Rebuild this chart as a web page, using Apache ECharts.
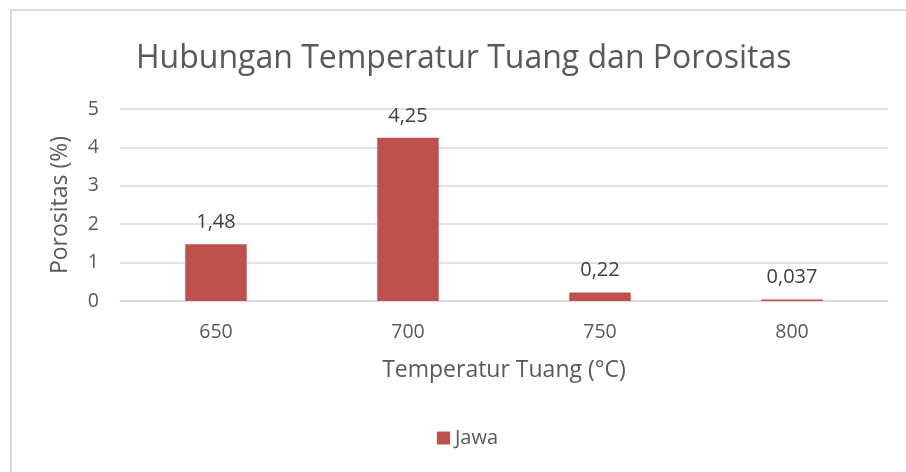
<!DOCTYPE html>
<html><head><meta charset="utf-8">
<script src="https://cdn.jsdelivr.net/npm/echarts@6/dist/echarts.min.js"></script>
<style>html,body{margin:0;padding:0;background:#fff}#c{width:906px;height:472px}</style>
</head><body><div id="c"></div>
<script>
const categories = ['650', '700', '750', '800'];
const values = [1.48, 4.25, 0.22, 0.037];
const valueLabels = ['1,48', '4,25', '0,22', '0,037'];
const seriesName = 'Jawa';

const FONT = 'Open Sans';
const chart = echarts.init(document.getElementById('c'), null, {renderer: 'canvas'});
chart.setOption({
  animation: false,
  textStyle: {fontFamily: FONT},
  graphic: [{
    type: 'rect', shape: {x: 11, y: 10, width: 1000, height: 1000},
    style: {fill: 'none', stroke: '#d9d9d9', lineWidth: 2}, silent: true, z: -10
  }],
  title: {
    text: 'Hubungan Temperatur Tuang dan Porositas', left: 131, top: 38,
    textStyle: {fontFamily: FONT, fontSize: 32, fontWeight: 'normal', color: '#595959'}
  },
  legend: {
    data: [seriesName], bottom: 19, left: 432, itemWidth: 13, itemHeight: 13, icon: 'rect',
    textStyle: {fontFamily: FONT, fontSize: 20, color: '#595959'}, itemGap: 5
  },
  grid: {left: 120, right: 18, top: 109, bottom: 171, containLabel: false},
  xAxis: {
    type: 'category', data: categories,
    name: 'Temperatur Tuang (°C)', nameLocation: 'middle', nameGap: 58,
    nameTextStyle: {fontFamily: FONT, fontSize: 23, color: '#595959'},
    axisLine: {lineStyle: {color: '#d9d9d9', width: 1.5}}, axisTick: {show: false},
    axisLabel: {fontFamily: FONT, fontSize: 19.5, color: '#595959', margin: 21}
  },
  yAxis: {
    type: 'value', min: 0, max: 5, interval: 1,
    name: 'Porositas (%)', nameLocation: 'middle', nameGap: 48,
    nameTextStyle: {fontFamily: FONT, fontSize: 23, color: '#595959'},
    axisLine: {show: false}, axisTick: {show: false},
    axisLabel: {fontFamily: FONT, fontSize: 19.5, color: '#595959', margin: 21},
    splitLine: {lineStyle: {color: '#d9d9d9', width: 1.5}}
  },
  series: [{
    name: seriesName, type: 'bar', data: values, barWidth: '32%',
    itemStyle: {color: '#c0504d'},
    label: {
      show: true, position: 'top', distance: 12,
      formatter: p => valueLabels[p.dataIndex],
      fontFamily: FONT, fontSize: 20, color: '#404040'
    }
  }]
});
</script></body></html>
